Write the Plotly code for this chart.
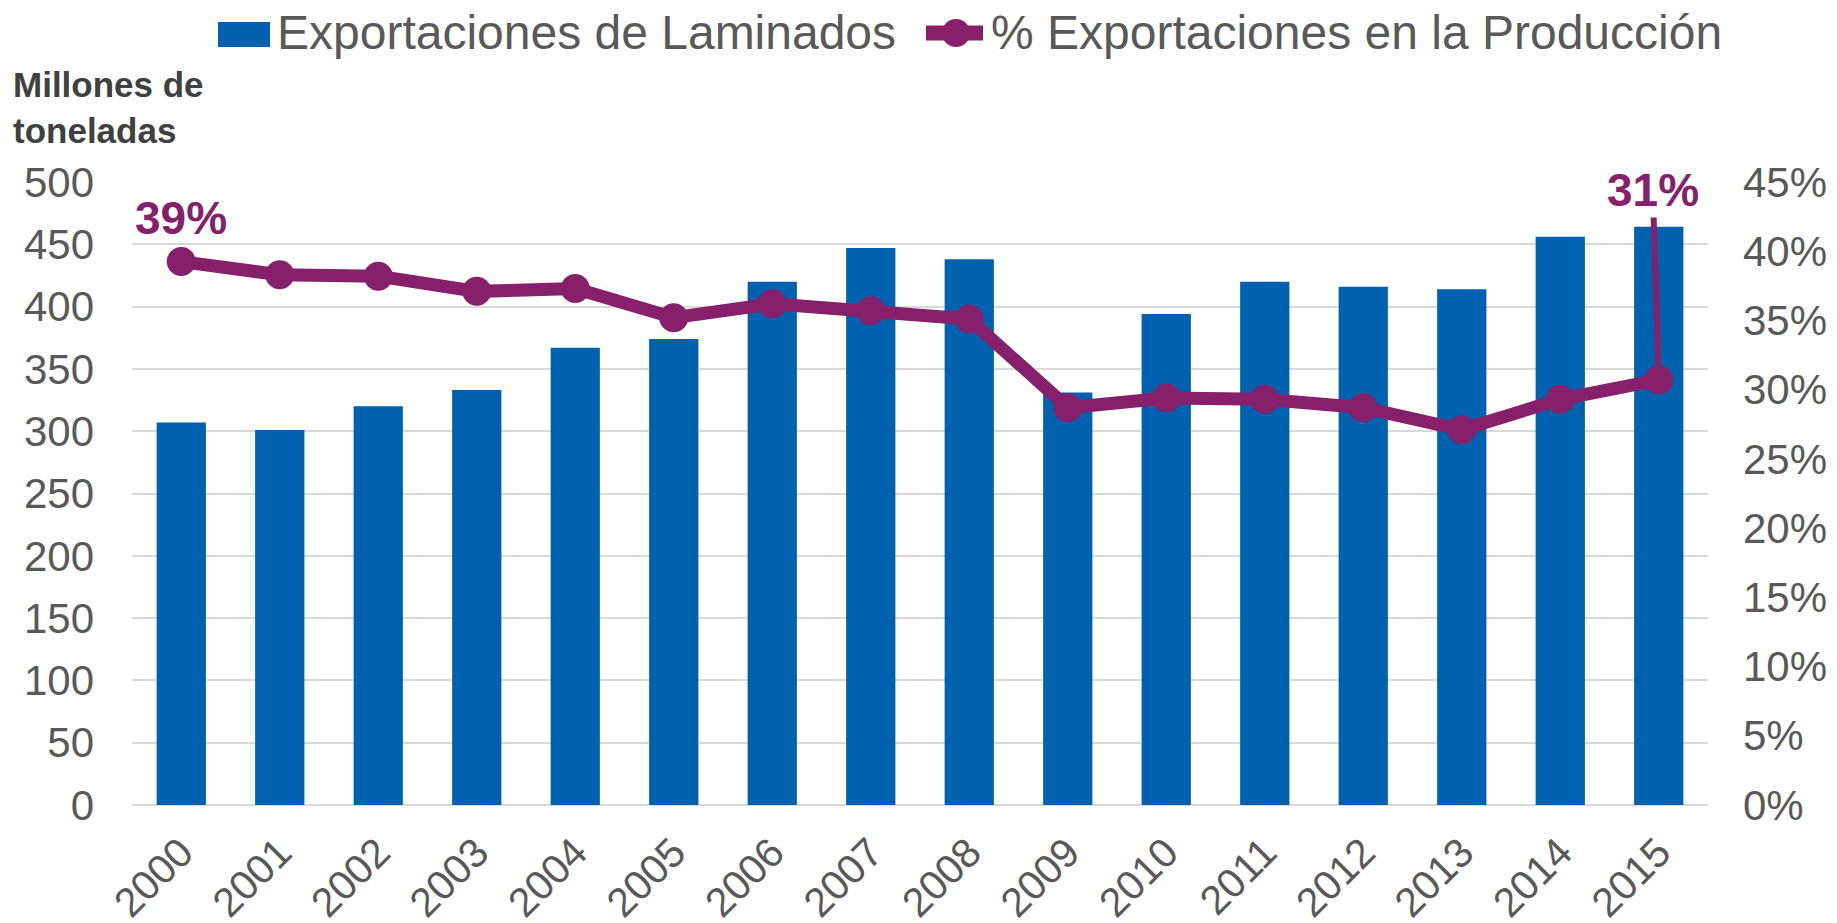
import plotly.graph_objects as go

years = [str(y) for y in range(2000, 2016)]
exports = [307, 301, 320, 333, 367, 374, 420, 447, 438, 331, 394, 420, 416, 414, 456, 464]
share = [0.3925, 0.383, 0.382, 0.371, 0.373, 0.352, 0.362, 0.357, 0.351, 0.287, 0.294, 0.293, 0.287, 0.271, 0.293, 0.307]
labels = {0: "39%", 15: "31%"}
bar_name = "Exportaciones de Laminados"
line_name = "% Exportaciones en la Producción"

BLUE = "#0061AF"
PURPLE = "#86206B"
GRID = "#D9D9D9"
TICK = "#595959"
FONT = "Liberation Sans, Arial, sans-serif"

# plot area in page pixels (page has an 8px body margin)
PL, PR, PT, PB = 132, 1708, 182, 805
def px(x):
    return (x - PL) / (PR - PL)
def py(y):
    return (PB - y) / (PB - PT)

fig = go.Figure()
fig.add_trace(go.Bar(
    x=years, y=exports, name=bar_name,
    marker=dict(color=BLUE, line=dict(width=0)), width=0.5, yaxis="y",
    showlegend=False,
))
fig.add_trace(go.Scatter(
    x=years, y=share, name=line_name,
    mode="lines+markers", line=dict(color=PURPLE, width=13),
    marker=dict(color=PURPLE, size=29), yaxis="y2",
    showlegend=False,
))

# data labels
fig.add_annotation(x=0, y=share[0], xref="x", yref="y2", text="<b>" + labels[0] + "</b>",
                   showarrow=False, yshift=44, font=dict(color=PURPLE, size=46, family=FONT))
fig.add_annotation(x=15, y=share[15], xref="x", yref="y2", text="<b>" + labels[15] + "</b>",
                   showarrow=True, ax=-6, ay=-190, arrowhead=0, arrowwidth=6,
                   arrowcolor=PURPLE, font=dict(color=PURPLE, size=46, family=FONT))
# axis title
fig.add_annotation(x=px(11), y=1.0, xref="paper", yref="paper", yanchor="bottom", xanchor="left",
                   align="left", yshift=30,
                   text="<b>Millones de<br>toneladas</b>", showarrow=False,
                   font=dict(color="#404040", size=35, family=FONT))

# custom legend
fig.add_shape(type="rect", xref="paper", yref="paper",
              x0=px(218), x1=px(270), y0=py(47), y1=py(22),
              fillcolor=BLUE, line=dict(width=0))
fig.add_annotation(x=px(275), y=py(33), xref="paper", yref="paper", xanchor="left", yanchor="middle",
                   text=bar_name, showarrow=False, font=dict(size=48, color=TICK, family=FONT))
fig.add_shape(type="line", xref="paper", yref="paper",
              x0=px(926), x1=px(983), y0=py(33), y1=py(33),
              line=dict(color=PURPLE, width=15))
fig.add_shape(type="circle", xref="paper", yref="paper",
              x0=px(942), x1=px(970), y0=py(47), y1=py(19),
              fillcolor=PURPLE, line=dict(width=0))
fig.add_annotation(x=px(989), y=py(33), xref="paper", yref="paper", xanchor="left", yanchor="middle",
                   text=line_name, showarrow=False, font=dict(size=48, color=TICK, family=FONT))

fig.update_layout(
    width=1829, height=915,
    paper_bgcolor="white", plot_bgcolor="white",
    margin=dict(l=124, r=129, t=174, b=118, autoexpand=False),
    font=dict(family=FONT, color=TICK),
    bargap=0.5,
    showlegend=False,
    xaxis=dict(type="category", range=[-0.5, 15.5], tickangle=-45, showgrid=False,
               tickfont=dict(size=41, color=TICK), ticks="", showline=False,
               ticklabelstandoff=14, automargin=False),
    yaxis=dict(range=[0, 500], dtick=50, showgrid=True, gridcolor=GRID, gridwidth=2,
               zeroline=True, zerolinecolor=GRID, zerolinewidth=2,
               tickfont=dict(size=42, color=TICK), ticklabelstandoff=37, automargin=False),
    yaxis2=dict(range=[0, 0.45], dtick=0.05, tickformat=".0%", overlaying="y", side="right",
                showgrid=False, zeroline=False, tickfont=dict(size=42, color=TICK),
                ticklabelstandoff=34, automargin=False),
)

fig.write_html("out.html")
